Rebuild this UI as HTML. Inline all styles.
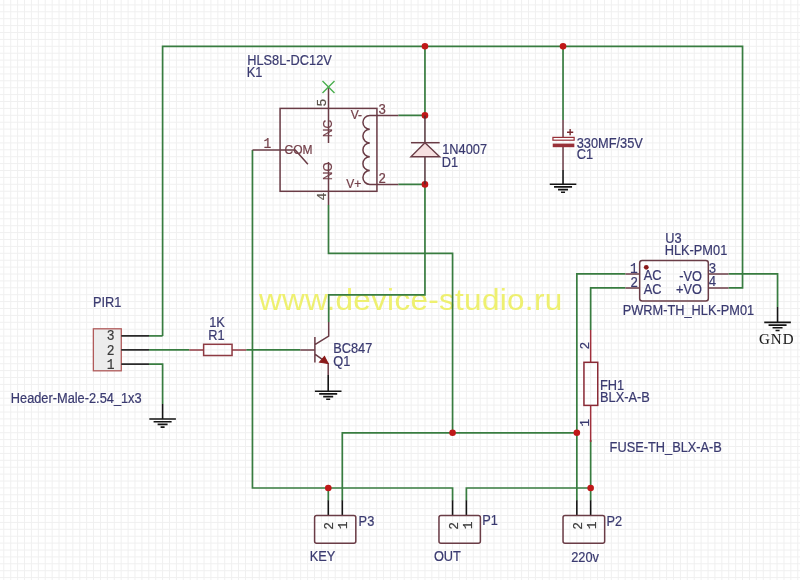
<!DOCTYPE html>
<html><head><meta charset="utf-8">
<style>
html,body{margin:0;padding:0;background:#fff;width:800px;height:580px;overflow:hidden}
svg{display:block;filter:blur(0.35px)}
text{font-family:"Liberation Sans",sans-serif;font-size:12.8px;color:#3a3a70;fill:currentColor;stroke:currentColor;stroke-width:0.2px}
text:not([transform]){transform-box:fill-box;transform-origin:50% 100%;transform:scaleY(1.08)}
.w{stroke:#387c40;stroke-width:1.7;fill:none}
.s{stroke:#6a3c46;stroke-width:1.5;fill:none}
.p{stroke:#4a2a30;stroke-width:1.4;fill:none}
.k{stroke:#141414;stroke-width:1.6;fill:none}
.j{fill:#c01818}
.pn{color:#74404a;font-size:12px}
.sn{font-family:"Liberation Mono",monospace;font-size:13px}
.dn{color:#3a3a3a;font-family:"Liberation Mono",monospace;font-size:13px}
</style></head><body>
<svg width="800" height="580" viewBox="0 0 800 580">
<defs>
<filter id="gb" x="0" y="0" width="1" height="1"><feGaussianBlur stdDeviation="0.55"/></filter>
<pattern id="g" x="3.7" y="5.0" width="6.9" height="6.9" patternUnits="userSpaceOnUse">
<path d="M0 0H6.9M0 0V6.9" stroke="#ebebeb" stroke-width="1" fill="none"/>
</pattern>
<g id="gnd" class="k">
<path d="M-13.3 0H13.3M-9 2.7H9M-5 5.4H5M-2 8.1H2"/>
</g>
</defs>
<rect width="800" height="580" fill="#fff"/>
<path d="M3.81 0V580M10.71 0V580M17.62 0V580M24.52 0V580M31.43 0V580M38.33 0V580M45.23 0V580M52.14 0V580M59.04 0V580M65.95 0V580M72.85 0V580M79.75 0V580M86.66 0V580M93.56 0V580M100.47 0V580M107.37 0V580M114.27 0V580M121.18 0V580M128.08 0V580M134.99 0V580M141.89 0V580M148.79 0V580M155.70 0V580M162.60 0V580M169.51 0V580M176.41 0V580M183.31 0V580M190.22 0V580M197.12 0V580M204.03 0V580M210.93 0V580M217.83 0V580M224.74 0V580M231.64 0V580M238.55 0V580M245.45 0V580M252.35 0V580M259.26 0V580M266.16 0V580M273.07 0V580M279.97 0V580M286.87 0V580M293.78 0V580M300.68 0V580M307.59 0V580M314.49 0V580M321.39 0V580M328.30 0V580M335.20 0V580M342.11 0V580M349.01 0V580M355.91 0V580M362.82 0V580M369.72 0V580M376.63 0V580M383.53 0V580M390.43 0V580M397.34 0V580M404.24 0V580M411.15 0V580M418.05 0V580M424.95 0V580M431.86 0V580M438.76 0V580M445.67 0V580M452.57 0V580M459.47 0V580M466.38 0V580M473.28 0V580M480.19 0V580M487.09 0V580M493.99 0V580M500.90 0V580M507.80 0V580M514.71 0V580M521.61 0V580M528.51 0V580M535.42 0V580M542.32 0V580M549.23 0V580M556.13 0V580M563.03 0V580M569.94 0V580M576.84 0V580M583.75 0V580M590.65 0V580M597.55 0V580M604.46 0V580M611.36 0V580M618.27 0V580M625.17 0V580M632.07 0V580M638.98 0V580M645.88 0V580M652.79 0V580M659.69 0V580M666.59 0V580M673.50 0V580M680.40 0V580M687.31 0V580M694.21 0V580M701.11 0V580M708.02 0V580M714.92 0V580M721.83 0V580M728.73 0V580M735.63 0V580M742.54 0V580M749.44 0V580M756.35 0V580M763.25 0V580M770.15 0V580M777.06 0V580M783.96 0V580M790.87 0V580M797.77 0V580M0 4.90H800M0 11.80H800M0 18.70H800M0 25.60H800M0 32.50H800M0 39.40H800M0 46.30H800M0 53.20H800M0 60.10H800M0 67.00H800M0 73.90H800M0 80.80H800M0 87.70H800M0 94.60H800M0 101.50H800M0 108.40H800M0 115.30H800M0 122.20H800M0 129.10H800M0 136.00H800M0 142.90H800M0 149.80H800M0 156.70H800M0 163.60H800M0 170.50H800M0 177.40H800M0 184.30H800M0 191.20H800M0 198.10H800M0 205.00H800M0 211.90H800M0 218.80H800M0 225.70H800M0 232.60H800M0 239.50H800M0 246.40H800M0 253.30H800M0 260.20H800M0 267.10H800M0 274.00H800M0 280.90H800M0 287.80H800M0 294.70H800M0 301.60H800M0 308.50H800M0 315.40H800M0 322.30H800M0 329.20H800M0 336.10H800M0 343.00H800M0 349.90H800M0 356.80H800M0 363.70H800M0 370.60H800M0 377.50H800M0 384.40H800M0 391.30H800M0 398.20H800M0 405.10H800M0 412.00H800M0 418.90H800M0 425.80H800M0 432.70H800M0 439.60H800M0 446.50H800M0 453.40H800M0 460.30H800M0 467.20H800M0 474.10H800M0 481.00H800M0 487.90H800M0 494.80H800M0 501.70H800M0 508.60H800M0 515.50H800M0 522.40H800M0 529.30H800M0 536.20H800M0 543.10H800M0 550.00H800M0 556.90H800M0 563.80H800M0 570.70H800M0 577.60H800" stroke="#f0f0f0" stroke-width="1" fill="none" filter="url(#gb)"/>

<!-- watermark -->
<text x="259" y="310.4" transform="translate(0 310.4) scale(1 0.93) translate(0 -310.4)" style="font-size:31.5px;fill:#eef070;stroke:none;letter-spacing:0.3px">www.device-studio.ru</text>

<g transform="translate(0.108 0) scale(1.00058 1)">
<!-- WIRES -->
<g class="w">
<path d="M162.4 335.9V46.3H742V287.9H728"/>
<path d="M424.6 46.3V115.4H398"/>
<path d="M562.6 46.3V120"/>
<path d="M252.2 149.9V488H452.2V500.5"/>
<path d="M398 184.4H424.6V294.8H328.4V322"/>
<path d="M328.2 205V253.4H452.2V432.8"/>
<path d="M342 500.5V432.8H576.4"/>
<path d="M576.4 500.5V273.9H625"/>
<path d="M590.2 330V287.9H625"/>
<path d="M590.2 440V500.5"/>
<path d="M466 500.5V488H590.2"/>
<path d="M328 500.5V488"/>
<path d="M728 273.9H777V307"/>
<path d="M148.8 349.9H189"/>
<path d="M246 349.9H300"/>
<path d="M148.8 364.1H162.4V404"/>
<path d="M148.8 335.9H162.4"/>
</g>

<!-- junctions -->
<g class="j">
<circle cx="424.6" cy="46.3" r="3.3"/>
<circle cx="562.6" cy="46.3" r="3.3"/>
<circle cx="424.6" cy="115.4" r="3.3"/>
<circle cx="424.6" cy="184.4" r="3.3"/>
<circle cx="452.2" cy="432.8" r="3.3"/>
<circle cx="576.4" cy="432.8" r="3.3"/>
<circle cx="328" cy="488" r="3.3"/>
<circle cx="590.2" cy="488" r="3.3"/>
</g>

<!-- RELAY K1 -->
<rect x="279.8" y="108.4" width="96.8" height="82.9" class="s"/>
<path class="s" d="M252.2 149.9H295L307.6 164.3"/>
<path class="s" d="M328.2 87V143"/>
<path class="s" d="M328.2 162V205"/>
<path class="s" d="M398 115.4H369.5a6.9 6.9 0 0 0 0 13.8a6.9 6.9 0 0 0 0 13.8a6.9 6.9 0 0 0 0 13.8a6.9 6.9 0 0 0 0 13.8a6.9 6.9 0 0 0 0 13.8H398"/>
<path d="M322.2 81L334.2 93M334.2 81L322.2 93" stroke="#4caf50" stroke-width="1.4"/>



<!-- DIODE D1 -->
<path class="p" d="M424.6 115.4V142.7M424.6 156.7V184.4"/>
<path class="s" d="M410.6 142.7H439.3"/>
<path d="M424.6 142.7L410.6 156.7H439.3Z" fill="#f6e0e0" stroke="#6a3c46" stroke-width="1.4"/>

<!-- CAP C1 -->
<path class="s" d="M562.6 120V137.5M562.6 147V170"/>
<path class="k" d="M562.6 170V184.2"/>
<rect x="552.5" y="137.4" width="21.2" height="2.8" fill="#fff" stroke="#983038" stroke-width="1.2"/>
<rect x="552.3" y="143.6" width="21.6" height="3.6" fill="#983038"/>
<path class="s" d="M566.6 132.2H572.8M569.7 129.1V135.3" style="stroke-width:1.4;stroke:#7a2a30"/>
<use href="#gnd" x="562.6" y="184.2"/>

<!-- U3 -->
<rect x="639.2" y="260.6" width="68.6" height="40.4" rx="2.5" class="s"/>
<circle cx="645.8" cy="267.3" r="2.4" fill="#8a1a1a"/>
<path class="s" d="M625 273.9H639.2M625 287.9H639.2M707.8 273.9H728M707.8 287.9H728"/>
<path class="k" d="M777 307V322.4"/>
<use href="#gnd" x="777" y="322.4"/>

<!-- PIR1 -->
<rect x="93.2" y="328.8" width="27.9" height="42" fill="#ececec" stroke="#b05a5a" stroke-width="1.3"/>
<path class="k" d="M121.1 335.9H148.8M121.1 349.9H148.8M121.1 364.1H148.8" style="stroke:#2a2a2a"/>
<path class="k" d="M162.4 404V419"/>
<use href="#gnd" x="162.4" y="419"/>

<!-- R1 -->
<path class="s" d="M189 349.9H203.4M231.8 349.9H246" style="stroke:#8e3a42"/>
<rect x="203.4" y="344.3" width="28.4" height="11.2" class="s" fill="#fff" style="stroke:#8e3a42"/>

<!-- Q1 -->
<path class="s" d="M300 349.9H314.6M314.6 337V362.4M314.6 344.6L328.4 336.2V322M314.6 354.2L327.9 363.6V375"/>
<path d="M327.9 363.6L319.2 362.2L324.2 356.4Z" fill="#8a1a1a" stroke="#8a1a1a" stroke-width="1"/>
<path class="k" d="M327.9 375V391.2"/>
<use href="#gnd" x="327.9" y="391.2"/>

<!-- FH1 -->
<path class="s" d="M590.2 330V362.3M590.2 405.4V442" style="stroke:#a0303c"/>
<rect x="583.5" y="362.3" width="13.8" height="43.1" class="s" fill="#fff" style="stroke:#8a2a36"/>

<!-- connectors -->
<path class="k" d="M328 500.2V516M342 500.2V516"/>
<rect x="314.3" y="515.6" width="41.2" height="27.6" rx="2" class="s" fill="none"/>
<path class="k" d="M452.2 500.2V516M466 500.2V516"/>
<rect x="438.6" y="515.6" width="41.4" height="27.6" rx="2" class="s" fill="none"/>
<path class="k" d="M576.4 500.2V516M590.2 500.2V516"/>
<rect x="562.6" y="515.6" width="41.6" height="27.6" rx="2" class="s" fill="none"/>
</g>
<g transform="translate(-0.8 0)">
<text x="248" y="64.8">HLS8L-DC12V</text>
<text x="247.5" y="77.5">K1</text>
<text x="285.3" y="153.8" class="pn">COM</text>
<text x="351.5" y="119.5" class="pn">V-</text>
<text x="347" y="188" class="pn">V+</text>
<text class="pn" transform="translate(332.8 137.2) rotate(-90)">NC</text>
<text class="pn" transform="translate(332.8 180.2) rotate(-90)">NO</text>
<text class="sn" style="color:#585048" transform="translate(326.6 106.4) rotate(-90)">5</text>
<text class="sn" style="color:#585048" transform="translate(326.6 200.5) rotate(-90)">4</text>
<text class="pn sn" x="264.2" y="148.7">1</text>
<text class="pn sn" x="379" y="114">3</text>
<text class="pn sn" x="379" y="182.9">2</text>

<text x="443" y="154.6">1N4007</text>
<text x="442.5" y="166.8">D1</text>

<text x="577.5" y="147.8">330MF/35V</text>
<text x="577.5" y="159.6">C1</text>

<text x="666" y="243.6">U3</text>
<text x="665.5" y="255.3">HLK-PM01</text>
<text x="644.5" y="279.8">AC</text>
<text x="644.5" y="293.8">AC</text>
<text x="702.8" y="281" text-anchor="end">-VO</text>
<text x="702.8" y="294.5" text-anchor="end">+VO</text>
<text x="623.5" y="315.5">PWRM-TH_HLK-PM01</text>
<text class="sn" x="630.8" y="273.4">1</text>
<text class="sn" x="631.1" y="287.2">2</text>
<text class="sn" x="709.3" y="273.2">3</text>
<text class="sn" x="709.3" y="286.6">4</text>
<text x="759.7" y="343.6" transform="translate(0 0)" style="font-family:'Liberation Serif',serif;font-size:15px;color:#1c1c1c;stroke-width:0.1px;letter-spacing:1.1px">GND</text>

<text class="dn" x="107.5" y="340">3</text>
<text class="dn" x="107.5" y="355.2">2</text>
<text class="dn" x="107.5" y="368.9">1</text>
<text x="93.7" y="307.3">PIR1</text>
<text x="11.6" y="403.2">Header-Male-2.54_1x3</text>

<text x="210" y="327.7">1K</text>
<text x="209" y="340.1">R1</text>
<text x="334" y="353.6">BC847</text>
<text x="334" y="366.2">Q1</text>

<text class="sn" transform="translate(589.4 349.6) rotate(-90)">2</text>
<text class="sn" transform="translate(590.2 426.7) rotate(-90)">1</text>
<text x="600.8" y="390">FH1</text>
<text x="600.8" y="402.4">BLX-A-B</text>
<text x="610.4" y="452.3">FUSE-TH_BLX-A-B</text>

<text class="dn" transform="translate(334.1 529.7) rotate(-90)">2</text>
<text class="dn" transform="translate(348.1 529.2) rotate(-90)">1</text>
<text x="359.4" y="525.8">P3</text>
<text x="310.5" y="561.5">KEY</text>

<text class="dn" transform="translate(459 529.7) rotate(-90)">2</text>
<text class="dn" transform="translate(472.5 529.2) rotate(-90)">1</text>
<text x="483" y="525.6">P1</text>
<text x="434.7" y="561.2">OUT</text>

<text class="dn" transform="translate(583.2 529.7) rotate(-90)">2</text>
<text class="dn" transform="translate(596.7 529.2) rotate(-90)">1</text>
<text x="607.4" y="526">P2</text>
<text x="572" y="562">220v</text>
</g>
</svg>
</body></html>
